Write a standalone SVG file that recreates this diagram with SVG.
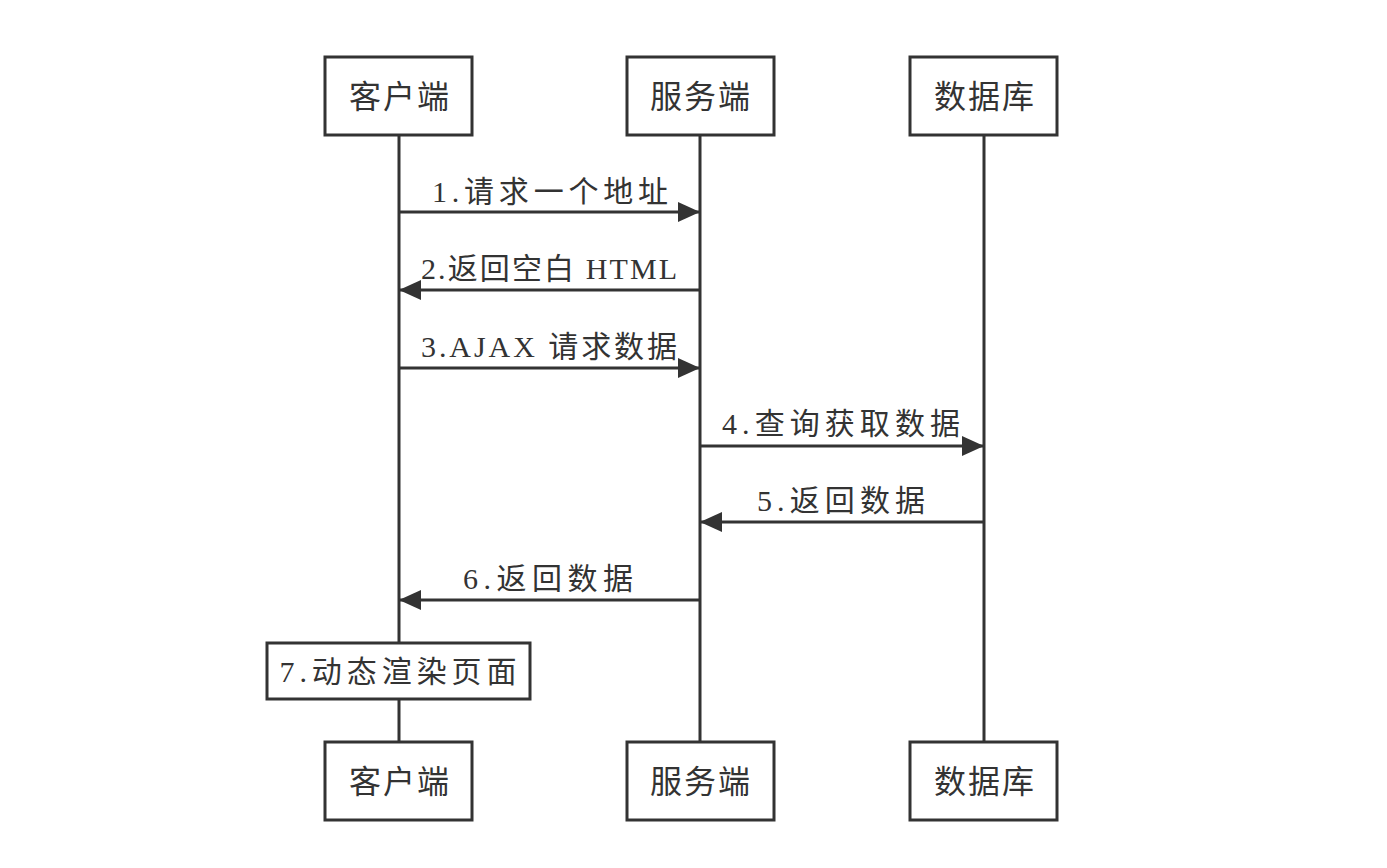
<svg xmlns="http://www.w3.org/2000/svg" width="1387" height="868" viewBox="0 0 1387 868">
<style>
.box{fill:#fff;stroke:#333;stroke-width:3}
.life{stroke:#333;stroke-width:3;fill:none}
.msg{stroke:#333;stroke-width:3;fill:none;marker-end:url(#ah)}
.t{font-family:"Liberation Serif","Noto Sans CJK SC",serif;font-size:32px;fill:#333;text-anchor:middle}
.l{font-family:"Liberation Serif","Noto Sans CJK SC",serif;font-size:30px;fill:#333;text-anchor:middle}
</style>
<defs>
<marker id="ah" markerWidth="22" markerHeight="20" refX="21" refY="10" orient="auto" markerUnits="userSpaceOnUse">
<path d="M0,0 L22,10 L0,20 Z" fill="#333"/>
</marker>
</defs>
<rect width="1387" height="868" fill="#fff"/>
<g id="lifelines">
<line class="life" x1="399" y1="135" x2="399" y2="742"/>
<line class="life" x1="700" y1="135" x2="700" y2="742"/>
<line class="life" x1="984" y1="135" x2="984" y2="742"/>
</g>
<g id="connectors">
<line class="msg" x1="399" y1="212" x2="699" y2="212"/>
<text class="l" x="550" y="202" textLength="236" lengthAdjust="spacing">1.请求一个地址</text>
<line class="msg" x1="700" y1="290" x2="400" y2="290"/>
<text class="l" x="549" y="279" textLength="256" lengthAdjust="spacing">2.返回空白 HTML</text>
<line class="msg" x1="399" y1="368" x2="699" y2="368"/>
<text class="l" x="549" y="357" textLength="256" lengthAdjust="spacing">3.AJAX 请求数据</text>
<line class="msg" x1="700" y1="446" x2="983" y2="446"/>
<text class="l" x="841" y="434" textLength="238" lengthAdjust="spacing">4.查询获取数据</text>
<line class="msg" x1="984" y1="522" x2="701" y2="522"/>
<text class="l" x="841" y="511" textLength="168" lengthAdjust="spacing">5.返回数据</text>
<line class="msg" x1="700" y1="600" x2="400" y2="600"/>
<text class="l" x="548" y="589" textLength="170" lengthAdjust="spacing">6.返回数据</text>
</g>
<g id="client-top"><rect class="box" x="325" y="57" width="147" height="78"/><text class="t" x="399" y="108" textLength="100" lengthAdjust="spacing">客户端</text></g>
<g id="server-top"><rect class="box" x="627" y="57" width="147" height="78"/><text class="t" x="700" y="108" textLength="100" lengthAdjust="spacing">服务端</text></g>
<g id="db-top"><rect class="box" x="910" y="57" width="147" height="78"/><text class="t" x="984" y="108" textLength="100" lengthAdjust="spacing">数据库</text></g>
<g id="render"><rect class="box" x="267" y="643" width="263" height="56"/><text class="l" x="398" y="682" textLength="237" lengthAdjust="spacing">7.动态渲染页面</text></g>
<g id="client-bottom"><rect class="box" x="325" y="742" width="147" height="78"/><text class="t" x="399" y="793" textLength="100" lengthAdjust="spacing">客户端</text></g>
<g id="server-bottom"><rect class="box" x="627" y="742" width="147" height="78"/><text class="t" x="700" y="793" textLength="100" lengthAdjust="spacing">服务端</text></g>
<g id="db-bottom"><rect class="box" x="910" y="742" width="147" height="78"/><text class="t" x="984" y="793" textLength="100" lengthAdjust="spacing">数据库</text></g>
</svg>
